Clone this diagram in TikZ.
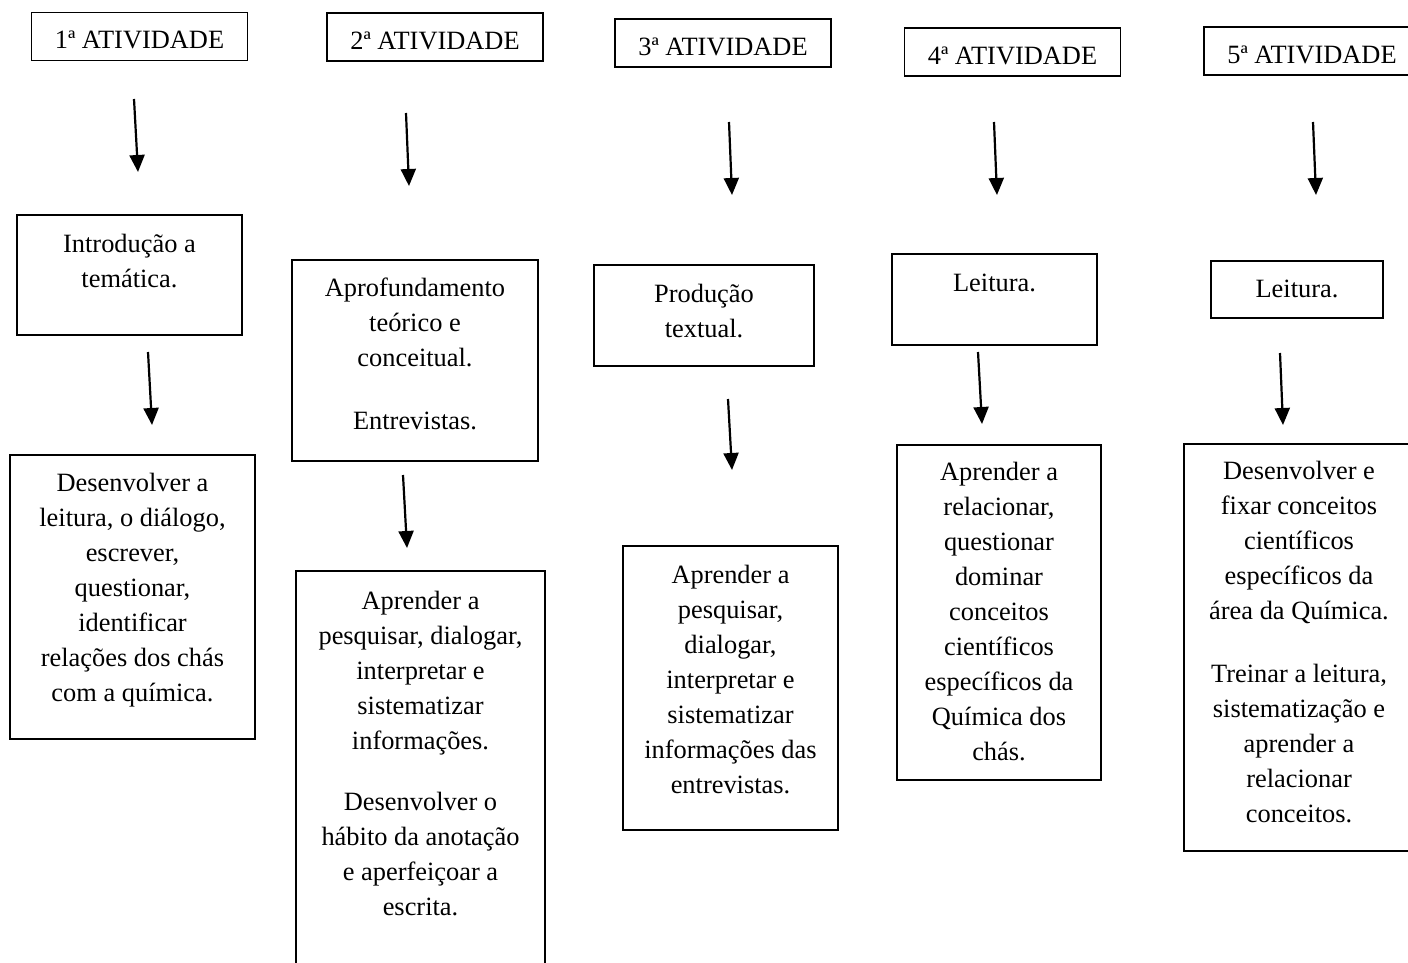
\documentclass[tikz,border=0pt]{standalone}
\usepackage{fontspec}
\setmainfont{Liberation Serif}
\usetikzlibrary{positioning,arrows.meta}

\tikzset{
  caixa/.style={draw, line width=0.9pt, inner sep=0pt},
  titulo/.style={caixa, minimum width=108pt, minimum height=24pt,
    text height=12.5pt, text depth=0pt, font=\fontsize{13.2}{17.5}\selectfont},
  texto/.style={inner sep=0pt, align=center, font=\fontsize{13.2}{17.5}\selectfont},
  seta/.style={line width=1.1pt, -{Triangle[length=8.5pt,width=7.5pt]}}
}

\begin{document}
\begin{tikzpicture}[x=0.5pt,y=-0.5pt]
\path[fill=white, use as bounding box] (0,0) rectangle (1408,963);

% titulos das atividades
\node[titulo] (at1) at (139.5,36.5) {1ª ATIVIDADE};
\node[titulo] (at2) at (435,37) {2ª ATIVIDADE};
\node[titulo] (at3) at (723,43) {3ª ATIVIDADE};
\node[titulo] (at4) at (1012.5,52) {4ª ATIVIDADE};
\node[titulo] (at5) at (1312,51) {5ª ATIVIDADE};

% 1a atividade
\node[caixa, minimum width=112.5pt, minimum height=60pt] (int1) at (129.5,275) {};
\node[texto, below=10pt of int1.north] (int1t) {Introdução a\\temática.};
\node[caixa, minimum width=122.5pt, minimum height=142pt] (des1) at (132.5,597) {};
\node[texto, below=9.5pt of des1.north] (des1t) {Desenvolver a\\leitura, o diálogo,\\escrever,\\questionar,\\identificar\\relações dos chás\\com a química.};

% 2a atividade
\node[caixa, minimum width=123pt, minimum height=100.5pt] (apf2) at (415,360.5) {};
\node[texto, below=9pt of apf2.north] (apf2t) {Aprofundamento\\teórico e\\conceitual.\\[14pt]Entrevistas.};
\node[caixa, minimum width=124.5pt, minimum height=204.5pt] (apr2) at (420.5,775.5) {};
\node[texto, below=10.5pt of apr2.north] (apr2t) {Aprender a\\pesquisar, dialogar,\\interpretar e\\sistematizar\\informações.\\[13pt]Desenvolver o\\hábito da anotação\\e aperfeiçoar a\\escrita.};

% 3a atividade
\node[caixa, minimum width=110pt, minimum height=50.5pt] (prd3) at (704,315.5) {};
\node[texto, below=10pt of prd3.north] (prd3t) {Produção\\textual.};
\node[caixa, minimum width=107.5pt, minimum height=142pt] (apr3) at (730.5,688) {};
\node[texto, below=10pt of apr3.north] (apr3t) {Aprender a\\pesquisar,\\dialogar,\\interpretar e\\sistematizar\\informações das\\entrevistas.};

% 4a atividade
\node[caixa, minimum width=102.5pt, minimum height=45.5pt] (lei4) at (994.5,299.5) {};
\node[texto, below=10.5pt of lei4.north] (lei4t) {Leitura.};
\node[caixa, minimum width=102pt, minimum height=167.5pt] (apr4) at (999,612.5) {};
\node[texto, below=9pt of apr4.north] (apr4t) {Aprender a\\relacionar,\\questionar\\dominar\\conceitos\\científicos\\específicos da\\Química dos\\chás.};

% 5a atividade
\node[caixa, minimum width=86pt, minimum height=28.5pt] (lei5) at (1297,289.5) {};
\node[texto, below=10pt of lei5.north] (lei5t) {Leitura.};
\node[caixa, minimum width=115pt, minimum height=203.5pt] (des5) at (1299,647.5) {};
\node[texto, below=9pt of des5.north] (des5t) {Desenvolver e\\fixar conceitos\\científicos\\específicos da\\área da Química.\\[14pt]Treinar a leitura,\\sistematização e\\aprender a\\relacionar\\conceitos.};

% setas
\coordinate (s1a) at (134,99);   \coordinate (e1a) at (138,172);
\coordinate (s1b) at (148,352);  \coordinate (e1b) at (152,425);
\coordinate (s2a) at (406,113);  \coordinate (e2a) at (409,186);
\coordinate (s2b) at (403,475);  \coordinate (e2b) at (407,548);
\coordinate (s3a) at (729,122);  \coordinate (e3a) at (732,195);
\coordinate (s3b) at (728,399);  \coordinate (e3b) at (732,470);
\coordinate (s4a) at (994,122);  \coordinate (e4a) at (997,195);
\coordinate (s4b) at (978,352);  \coordinate (e4b) at (982,424);
\coordinate (s5a) at (1313,122); \coordinate (e5a) at (1316,195);
\coordinate (s5b) at (1280,353); \coordinate (e5b) at (1283,425);
\foreach \c in {1a,1b,2a,2b,3a,3b,4a,4b,5a,5b}
  \draw[seta] (s\c) -- (e\c);
\end{tikzpicture}
\end{document}
